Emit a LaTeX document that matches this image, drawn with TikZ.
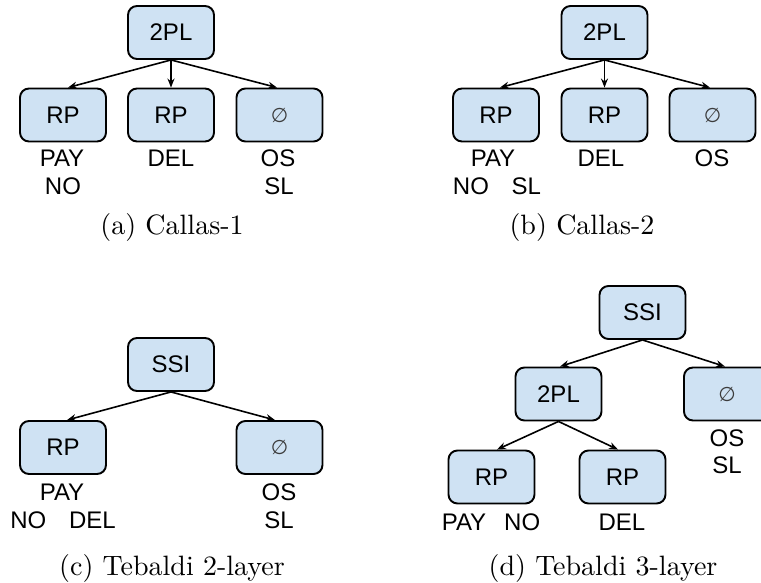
\documentclass[tikz,border=0pt]{standalone}
\usepackage{fontspec}
\setmainfont{Latin Modern Roman}
\newfontfamily\capfont{lmroman10-regular.otf}
\newfontfamily\boxfont{Liberation Sans}
\newfontfamily\symfont{DejaVu Sans}
\usetikzlibrary{arrows.meta}
\definecolor{boxblue}{RGB}{207,226,243}
\definecolor{emptygray}{RGB}{60,60,60}
\tikzset{
  tbox/.style={rectangle, rounded corners=9pt, draw=black, line width=1.9pt,
    fill=boxblue, minimum width=86pt, minimum height=53pt, inner sep=0pt,
    font=\boxfont\fontsize{24}{28}\selectfont},
  lbl/.style={anchor=base, inner sep=0pt, font=\boxfont\fontsize{24}{28}\selectfont},
  subcap/.style={anchor=base, inner sep=0pt, font=\capfont\fontsize{28}{32}\selectfont},
  link/.style={-{Stealth[length=9pt,width=7pt]}, line width=1.6pt},
}
\newcommand{\noset}{{\symfont\fontsize{20}{24}\selectfont\color{emptygray}∅}}
\begin{document}
\begin{tikzpicture}[x=1pt, y=-1pt]
\clip (0,0) rectangle (761,583);
\fill[white] (0,0) rectangle (761,583);

% (a) Callas-1
\node[tbox] (a-root) at (171,32.5) {2PL};
\node[tbox] (a-rp1) at (63,115) {RP};
\node[tbox] (a-rp2) at (171,115) {RP};
\node[tbox] (a-nil) at (279.5,115) {\noset};
\draw[link] (a-root.south) -- ([xshift=5pt]a-rp1.north);
\draw[link] (a-root.south) -- (a-rp2.north);
\draw[link] (a-root.south) -- ([xshift=-2.5pt]a-nil.north);
\node[lbl] (a-pay) at (62,167) {PAY};
\node[lbl] (a-no) at (63,195) {NO};
\node[lbl] (a-del) at (171,167) {DEL};
\node[lbl] (a-os) at (278,167) {OS};
\node[lbl] (a-sl) at (279,195) {SL};
\node[subcap] (a-cap) at (172,234) {(a) Callas-1};

% (b) Callas-2
\node[tbox] (b-root) at (604.5,32.5) {2PL};
\node[tbox] (b-rp1) at (496,115) {RP};
\node[tbox] (b-rp2) at (604.5,115) {RP};
\node[tbox] (b-nil) at (712.5,115) {\noset};
\draw[link] (b-root.south) -- ([xshift=4pt]b-rp1.north);
\draw[link] (b-root.south) -- (b-rp2.north);
\draw[link] (b-root.south) -- ([xshift=-2.5pt]b-nil.north);
\node[lbl] (b-pay) at (493,167) {PAY};
\node[lbl] (b-nosl) at (497,195) {NO\hspace{0.95em}SL};
\node[lbl] (b-del) at (601,167) {DEL};
\node[lbl] (b-os) at (712,167) {OS};
\node[subcap] (b-cap) at (582,234) {(b) Callas-2};

% (c) Tebaldi 2-layer
\node[tbox] (c-root) at (171,364.5) {SSI};
\node[tbox] (c-rp) at (63,447.5) {RP};
\node[tbox] (c-nil) at (279.5,447.5) {\noset};
\draw[link] (c-root.south) -- ([xshift=4pt]c-rp.north);
\draw[link] (c-root.south) -- ([xshift=-4.5pt]c-nil.north);
\node[lbl] (c-pay) at (62,500) {PAY};
\node[lbl] (c-nodel) at (63,528) {NO\hspace{0.95em}DEL};
\node[lbl] (c-os) at (279,500) {OS};
\node[lbl] (c-sl) at (279,528) {SL};
\node[subcap] (c-cap) at (172,575) {(c) Tebaldi 2-layer};

% (d) Tebaldi 3-layer
\node[tbox] (d-root) at (642.5,312.5) {SSI};
\node[tbox] (d-mid) at (558.5,394) {2PL};
\node[tbox] (d-nil) at (727,394) {\noset};
\node[tbox] (d-rp1) at (491.5,477) {RP};
\node[tbox] (d-rp2) at (622.5,477) {RP};
\draw[link] (d-root.south) -- ([xshift=1.5pt]d-mid.north);
\draw[link] (d-root.south) -- ([xshift=-2pt]d-nil.north);
\draw[link] (d-mid.south) -- ([xshift=5.5pt]d-rp1.north);
\draw[link] (d-mid.south) -- ([xshift=-4.5pt]d-rp2.north);
\node[lbl] (d-os) at (727,446.5) {OS};
\node[lbl] (d-sl) at (727,473) {SL};
\node[lbl] (d-payno) at (491,530) {PAY\hspace{0.75em}NO};
\node[lbl] (d-del) at (622,530) {DEL};
\node[subcap] (d-cap) at (603,575) {(d) Tebaldi 3-layer};
\end{tikzpicture}
\end{document}
